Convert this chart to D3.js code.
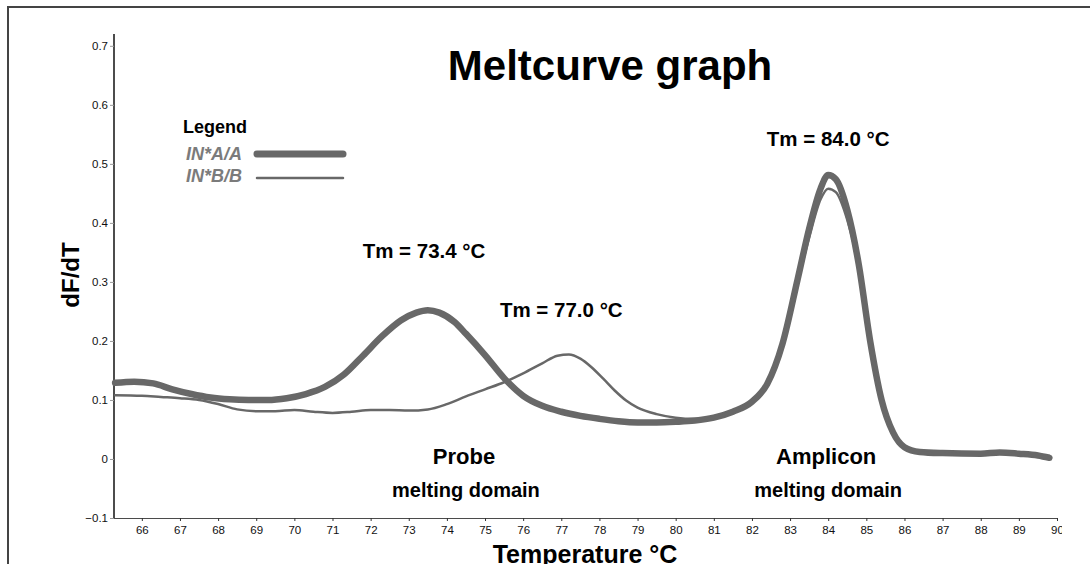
<!DOCTYPE html>
<html>
<head>
<meta charset="utf-8">
<script src="https://cdn.jsdelivr.net/npm/d3@7"></script>
<style>
  body { margin: 0; background: #fff; }
  svg { display: block; font-family: Arial, "Liberation Sans", sans-serif; }
</style>
</head>
<body>
<div id="melt-chart"></div>
<script>
// melt curve readings, temperature in °C
const tempsAA = [65.3, 65.8, 66.3, 66.8, 67.3, 67.8, 68.3, 68.8, 69.3, 69.8, 70.3, 70.8, 71.3, 71.8, 72.3, 72.8, 73.2, 73.5, 73.8, 74.2, 74.5, 75.0, 75.5, 76.0, 76.5, 77.0, 77.5, 78.0, 78.5, 79.0, 79.5, 80.0, 80.5, 81.0, 81.5, 82.0, 82.4, 82.8, 83.2, 83.5, 83.8, 84.0, 84.2, 84.5, 84.8, 85.1, 85.4, 85.7, 86.0, 86.4, 87.0, 88.0, 88.5, 89.0, 89.5, 89.8]
const valuesAA = [0.129, 0.131, 0.128, 0.118, 0.110, 0.104, 0.101, 0.100, 0.100, 0.103, 0.110, 0.122, 0.143, 0.175, 0.208, 0.235, 0.248, 0.252, 0.248, 0.232, 0.212, 0.176, 0.137, 0.107, 0.090, 0.080, 0.073, 0.068, 0.064, 0.062, 0.062, 0.063, 0.065, 0.070, 0.080, 0.097, 0.127, 0.195, 0.305, 0.390, 0.458, 0.481, 0.474, 0.422, 0.330, 0.200, 0.100, 0.045, 0.020, 0.012, 0.010, 0.009, 0.011, 0.009, 0.006, 0.002]

const tempsBB = [65.3, 66.0, 66.5, 67.0, 67.5, 68.0, 68.5, 69.0, 69.5, 70.0, 70.5, 71.0, 71.5, 72.0, 72.5, 73.0, 73.5, 74.0, 74.5, 75.0, 75.5, 76.0, 76.5, 76.9, 77.2, 77.5, 77.8, 78.1, 78.4, 78.7, 79.0, 79.5, 80.0, 80.5, 81.0, 81.5, 82.0, 82.4, 82.8, 83.2, 83.5, 83.8, 84.0, 84.2, 84.5, 84.8, 85.1, 85.4, 85.7, 86.0, 86.4, 87.0, 88.0, 88.5, 89.0, 89.5, 89.8]
const valuesBB = [0.108, 0.107, 0.105, 0.103, 0.100, 0.093, 0.084, 0.081, 0.081, 0.083, 0.080, 0.078, 0.080, 0.083, 0.083, 0.082, 0.084, 0.093, 0.106, 0.118, 0.130, 0.145, 0.162, 0.175, 0.177, 0.170, 0.155, 0.136, 0.116, 0.099, 0.087, 0.076, 0.070, 0.068, 0.070, 0.080, 0.097, 0.127, 0.195, 0.300, 0.375, 0.440, 0.458, 0.452, 0.405, 0.325, 0.198, 0.100, 0.045, 0.019, 0.011, 0.009, 0.008, 0.010, 0.008, 0.005, 0.002]

const xTicks = [66, 67, 68, 69, 70, 71, 72, 73, 74, 75, 76, 77, 78, 79, 80, 81, 82, 83, 84, 85, 86, 87, 88, 89, 90]
const yTicks = [-0.1, 0, 0.1, 0.2, 0.3, 0.4, 0.5, 0.6, 0.7]

const seriesNames = ["IN*A/A", "IN*B/B"]
const peakLabels = [
  {text: "Tm = 73.4 °C", temp: 73.4, value: 0.34},
  {text: "Tm = 77.0 °C", temp: 77.0, value: 0.24},
  {text: "Tm = 84.0 °C", temp: 84.0, value: 0.53}
]
const domainLabels = [
  {title: "Probe", sub: "melting domain", temp: 74.5},
  {title: "Amplicon", sub: "melting domain", temp: 84.0}
]

const width = 1090
const height = 564
const lineColor = "#686868"
const legendTextColor = "#7b7b7b"

const svg = d3.select("#melt-chart")
  .append("svg")
  .attr("width", width)
  .attr("height", height)

const xScale = d3.scaleLinear().domain([65.27, 90]).range([114, 1057])
const yScale = d3.scaleLinear().domain([-0.1, 0.72]).range([518, 34])

// outer frame (only top and left edges are visible)
svg.append("path")
  .attr("d", `M8,${height} L8,7 L${width},7`)
  .attr("fill", "none")
  .attr("stroke", "#444")
  .attr("stroke-width", 2)

svg.append("clipPath")
  .attr("id", "x-clip")
  .append("rect")
  .attr("x", 0).attr("y", 0).attr("width", 1062).attr("height", height)

const xAxis = svg.append("g")
  .attr("transform", `translate(0, ${yScale(-0.1)})`)
  .attr("clip-path", "url(#x-clip)")
  .call(d3.axisBottom(xScale).tickValues(xTicks).tickSize(3).tickPadding(5).tickFormat(d3.format("d")))
xAxis.select(".domain").attr("stroke", "#111").attr("stroke-width", 1.5)
  .attr("d", `M114,0H1057V-4`)
xAxis.selectAll("text").attr("font-size", 11.5).attr("fill", "#111").attr("font-family", "Arial, 'Liberation Sans', sans-serif")
xAxis.selectAll("line").attr("stroke", "#333")

const yAxis = svg.append("g")
  .attr("transform", `translate(${xScale(65.27)}, 0)`)
  .call(d3.axisLeft(yScale).tickValues(yTicks).tickSize(4).tickPadding(2).tickFormat(d => d === 0 ? "0" : d3.format(".1f")(d)))
yAxis.select(".domain").attr("stroke", "#111").attr("stroke-width", 1.5)
  .attr("d", `M0,${yScale(-0.1)}V34`)
yAxis.selectAll("text").attr("font-size", 11.5).attr("fill", "#111").attr("font-family", "Arial, 'Liberation Sans', sans-serif")
yAxis.selectAll("line").attr("stroke", "#999")

// titles
svg.append("text")
  .attr("x", 610).attr("y", 80)
  .attr("text-anchor", "middle")
  .attr("font-size", 42).attr("font-weight", "bold")
  .text("Meltcurve graph")

svg.append("text")
  .attr("x", 585).attr("y", 563)
  .attr("text-anchor", "middle")
  .attr("font-size", 25).attr("font-weight", "bold")
  .text("Temperature °C")

svg.append("text")
  .attr("transform", "translate(79, 275) rotate(-90)")
  .attr("text-anchor", "middle")
  .attr("font-size", 24).attr("font-weight", "bold")
  .text("dF/dT")

const line = d3.line()
  .x(d => xScale(d[0]))
  .y(d => yScale(d[1]))
  .curve(d3.curveMonotoneX)

svg.append("path")
  .datum(d3.zip(tempsAA, valuesAA))
  .attr("fill", "none")
  .attr("stroke", lineColor)
  .attr("stroke-width", 6.5)
  .attr("stroke-linejoin", "round")
  .attr("stroke-linecap", "round")
  .attr("d", line)

svg.append("path")
  .datum(d3.zip(tempsBB, valuesBB))
  .attr("fill", "none")
  .attr("stroke", lineColor)
  .attr("stroke-width", 2.5)
  .attr("stroke-linejoin", "round")
  .attr("stroke-linecap", "round")
  .attr("d", line)

// Tm annotations
svg.selectAll(".tm")
  .data(peakLabels)
  .enter()
  .append("text")
  .attr("class", "tm")
  .attr("x", d => xScale(d.temp))
  .attr("y", d => yScale(d.value))
  .attr("text-anchor", "middle")
  .attr("font-size", 20.5).attr("font-weight", "bold")
  .text(d => d.text)

const domains = svg.selectAll(".domain-label")
  .data(domainLabels)
  .enter()
  .append("g")
  .attr("class", "domain-label")
domains.append("text")
  .attr("x", d => xScale(d.temp) - 2)
  .attr("y", 464)
  .attr("text-anchor", "middle")
  .attr("font-size", 22).attr("font-weight", "bold")
  .text(d => d.title)
domains.append("text")
  .attr("x", d => xScale(d.temp))
  .attr("y", 497)
  .attr("text-anchor", "middle")
  .attr("font-size", 20).attr("font-weight", "bold")
  .text(d => d.sub)

// legend
const legend = svg.append("g").attr("transform", "translate(183, 0)")
legend.append("text")
  .attr("x", 0).attr("y", 133)
  .attr("font-size", 18).attr("font-weight", "bold")
  .text("Legend")
const legendRows = legend.selectAll(".row")
  .data(seriesNames)
  .enter()
  .append("g")
  .attr("class", "row")
  .attr("transform", (d, i) => `translate(0, ${160 + i * 22})`)
legendRows.append("text")
  .attr("x", 3)
  .attr("font-size", 18).attr("font-weight", "bold").attr("font-style", "italic")
  .attr("fill", legendTextColor)
  .text(d => d)
legendRows.append("line")
  .attr("x1", 74).attr("x2", 160)
  .attr("y1", (d, i) => i === 0 ? -6 : -4).attr("y2", (d, i) => i === 0 ? -6 : -4)
  .attr("stroke", lineColor)
  .attr("stroke-width", (d, i) => i === 0 ? 7 : 2.5)
  .attr("stroke-linecap", "round")
</script>
</body>
</html>
